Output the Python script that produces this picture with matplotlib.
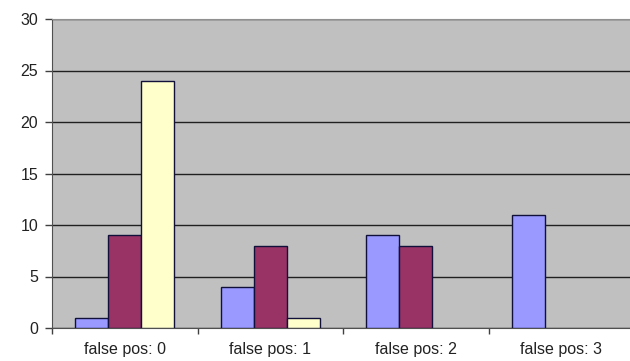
import matplotlib.pyplot as plt
import numpy as np

plt.rcParams['font.family'] = ['Liberation Sans', 'DejaVu Sans']

categories = ["false pos: 0", "false pos: 1", "false pos: 2", "false pos: 3"]
series_a = [1, 4, 9, 11]
series_b = [9, 8, 8, 0]
series_c = [24, 1, 0, 0]
y_ticks = [0, 5, 10, 15, 20, 25, 30]

colors = ['#9999FF', '#993366', '#FFFFCC']

fig = plt.figure(figsize=(6.3, 3.61), dpi=100)
ax = fig.add_axes([52 / 630, 33 / 361, 582 / 630, 309 / 361])
ax.set_facecolor('#C0C0C0')

x = np.arange(len(categories))
width = 0.227
for i, vals in enumerate([series_a, series_b, series_c]):
    # empty bars get no outline so nothing sits on the axis
    lw = [1.0 if v else 0 for v in vals]
    ax.bar(x + (i - 1) * width, vals, width, color=colors[i],
           edgecolor='#10103a', linewidth=lw, zorder=3)

ax.set_xlim(-0.5, len(categories) - 0.5)
ax.set_ylim(0, 30)
ax.set_yticks(y_ticks)
ax.yaxis.grid(True, color='#202020', linewidth=1.0, zorder=1)

# category labels centred, ticks sit between groups
ax.set_xticks(x)
ax.set_xticklabels(categories, fontsize=11.5, color='#222222')
ax.tick_params(axis='x', length=0, pad=10)
ax.set_xticks(np.arange(len(categories) + 1) - 0.5, minor=True)
ax.tick_params(axis='x', which='minor', length=4, width=1, color='#404040', direction='out')
ax.tick_params(axis='y', length=5, width=1, color='#404040', labelsize=11.5,
               labelcolor='#222222', pad=5)

ax.spines['left'].set_color('#505050')
ax.spines['bottom'].set_color('#505050')
ax.spines['top'].set_color('#909090')
ax.spines['right'].set_visible(False)

plt.savefig('out.png', dpi=100)
plt.close()
